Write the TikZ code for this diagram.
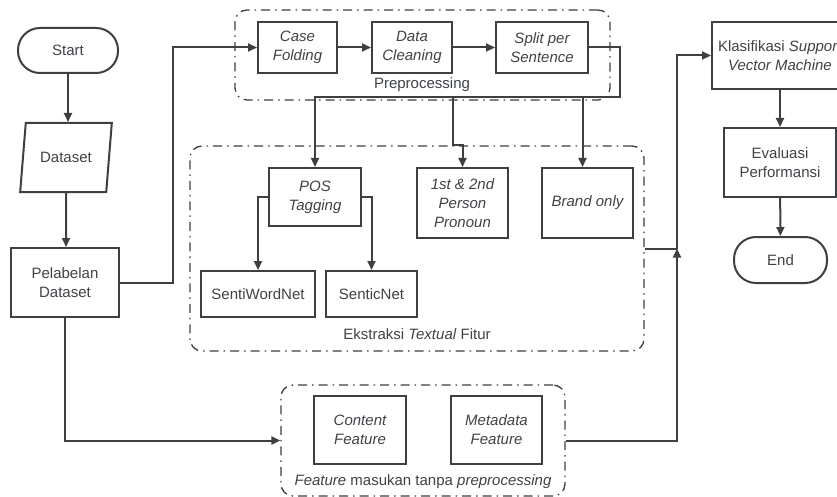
\documentclass[tikz,border=0pt]{standalone}
\usepackage{fontspec}
\setmainfont{Liberation Sans}
\usetikzlibrary{positioning, shapes.geometric, arrows.meta, calc}
\definecolor{flline}{HTML}{3C4043}
\definecolor{fltext}{HTML}{3F4347}

\begin{document}
\begin{tikzpicture}[x=1pt, y=-1pt,
          every node/.style={font=\fontsize{15}{19}\selectfont, text=fltext, align=center},
          box/.style={draw=flline, line width=2pt, fill=white, inner sep=2pt},
          itbox/.style={box, font=\fontsize{15}{19}\selectfont\itshape},
          term/.style={box, rounded corners=22pt},
          io/.style={box, trapezium, trapezium left angle=75, trapezium right angle=105, trapezium stretches=true},
          grp/.style={draw=flline, line width=1.3pt, rounded corners=12pt, dash pattern=on 9pt off 5pt on 1.5pt off 5pt},
          conn/.style={draw=flline, line width=2pt, -{Triangle[length=9pt, width=8pt]}},
          wire/.style={draw=flline, line width=2pt}]
        \path[fill=white, use as bounding box] (0,0) rectangle (837,497);
        \node[grp, minimum width=375pt, minimum height=90pt] (pre) at (422.5,55) {};
        \node[grp, minimum width=454pt, minimum height=205pt] (ext) at (417,248.5) {};
        \node[grp, minimum width=284pt, minimum height=111pt] (feat) at (423,440.5) {};
        \node (prelbl) at (422,85) {Preprocessing};
        \node (extlbl) at (417,334) {Ekstraksi \textit{Textual} Fitur};
        \node (featlbl) at (423,482) {\textit{Feature} masukan tanpa \textit{preprocessing}};
        \node[term, minimum width=100pt, minimum height=45pt] (start) at (68,50.5) {Start};
        \node[io, minimum width=92pt, minimum height=69pt] (data) at (66,157.5) {Dataset};
        \node[box, minimum width=108pt, minimum height=69pt] (pel) at (65,282.5) {Pelabelan\\Dataset};
        \node[itbox, minimum width=79pt, minimum height=51pt] (case) at (297.5,47.5) {Case\\Folding};
        \node[itbox, minimum width=80pt, minimum height=51pt] (clean) at (412,47.5) {Data\\Cleaning};
        \node[itbox, minimum width=92pt, minimum height=51pt] (split) at (542,47.5) {Split per\\Sentence};
        \node[itbox, minimum width=92pt, minimum height=58pt] (pos) at (315,197) {POS\\Tagging};
        \node[itbox, minimum width=91pt, minimum height=70pt] (pron) at (462.5,203) {1st \& 2nd\\Person\\Pronoun};
        \node[itbox, minimum width=91pt, minimum height=70pt] (brand) at (587.5,203) {Brand only};
        \node[box, minimum width=114pt, minimum height=46pt] (senti) at (258,294) {SentiWordNet};
        \node[box, minimum width=91pt, minimum height=46pt] (sentic) at (371.5,294) {SenticNet};
        \node[itbox, minimum width=92pt, minimum height=68pt] (content) at (360,430) {Content\\Feature};
        \node[itbox, minimum width=91pt, minimum height=68pt] (meta) at (496.5,430) {Metadata\\Feature};
        \node[box, minimum width=136pt, minimum height=67pt] (svm) at (780,55.5) {Klasifikasi \textit{Support}\\\textit{Vector Machine}};
        \node[box, minimum width=112pt, minimum height=69pt] (eval) at (780,162.5) {Evaluasi\\Performansi};
        \node[term, minimum width=93pt, minimum height=46pt] (end) at (780.5,260) {End};
        \coordinate (fork) at (620,97);
        \coordinate (jog) at (453,97);
        \coordinate (merge) at (677,248.5);
        \draw[conn] (start) -- (start |- data.north);
        \draw[conn] (data) -- (data |- pel.north);
        \draw[conn] (pel.east) -- ++(53,0) |- (case);
        \draw[conn] (case) -- (clean);
        \draw[conn] (clean) -- (split);
        \draw[conn] (split.east) -| (fork) -| (pos);
        \draw[conn] (jog) -- ++(0,48) -| (pron);
        \draw[conn] ([xshift=-5pt]fork -| brand) -- ([xshift=-5pt]brand.north);
        \draw[conn] (pos.west) -| (senti);
        \draw[conn] (pos.east) -| (sentic);
        \draw[wire] (ext.east) -- (merge);
        \draw[conn] (feat.east) -| (merge);
        \draw[conn] (merge) |- (svm);
        \draw[conn] (pel) |- (feat.west);
        \draw[conn] (svm) -- (eval);
        \draw[conn] (eval) -- (end);
      \end{tikzpicture}
\end{document}
